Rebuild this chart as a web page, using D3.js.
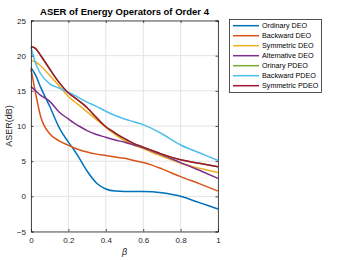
<!DOCTYPE html>
<html>
<head>
<script src="https://cdn.jsdelivr.net/npm/d3@7"></script>
<style>
  body { margin: 0; background: #fff; }
  text { font-family: "Liberation Sans", Arial, sans-serif; }
</style>
</head>
<body>
<div id="chart"></div>
<script>

// beta values and one array per operator (dB)
var beta = [0, 0.025, 0.05, 0.1, 0.15, 0.2, 0.225, 0.25, 0.3, 0.35, 0.4, 0.45, 0.5, 0.55, 0.6, 0.65, 0.7, 0.8, 0.9, 1];

var ordinaryDEO    = [18.3, 17.2, 15.6, 12.8, 9.8, 7.7, 6.8, 5.8, 3.6, 1.9, 1.05, 0.75, 0.7, 0.7, 0.7, 0.65, 0.5, 0.0, -0.9, -1.8];
var backwardDEO    = [18.1, 14.6, 11.5, 8.9, 7.9, 7.25, 6.95, 6.7, 6.3, 6.0, 5.8, 5.6, 5.4, 5.1, 4.8, 4.4, 3.9, 2.8, 1.8, 0.75];
var symmetricDEO   = [19.3, 19.1, 18.6, 17.2, 15.7, 14.2, 13.6, 13.1, 12.0, 10.9, 9.8, 8.8, 7.9, 7.3, 6.8, 6.2, 5.7, 4.7, 4.0, 3.4];
var alternativeDEO = [15.6, 15.0, 14.4, 13.5, 12.0, 11.0, 10.5, 10.1, 9.35, 8.8, 8.4, 8.0, 7.7, 7.3, 6.9, 6.4, 5.9, 4.8, 3.7, 2.55];
var orinaryPDEO    = [21.3, 21.0, 20.1, 18.1, 16.2, 14.7, 14.2, 13.7, 12.6, 11.2, 9.9, 9.0, 8.2, 7.5, 7.0, 6.5, 6.0, 5.2, 4.7, 4.2];
var backwardPDEO   = [21.2, 18.9, 17.5, 16.0, 15.4, 14.8, 14.5, 14.1, 13.4, 12.8, 12.1, 11.5, 11.0, 10.6, 10.2, 9.6, 8.9, 7.3, 6.2, 5.1];
var symmetricPDEO  = [21.3, 21.0, 20.1, 18.1, 16.2, 14.7, 14.2, 13.7, 12.6, 11.2, 9.9, 9.0, 8.2, 7.5, 7.0, 6.5, 6.0, 5.2, 4.7, 4.2];

var names  = ["Ordinary DEO", "Backward DEO", "Symmetric DEO", "Alternative DEO", "Orinary PDEO", "Backward PDEO", "Symmetric PDEO"];
var colors = ["#0072BD", "#D95319", "#EDB120", "#7E2F8E", "#77AC30", "#4DBEEE", "#A2142F"];
var series = [ordinaryDEO, backwardDEO, symmetricDEO, alternativeDEO, orinaryPDEO, backwardPDEO, symmetricPDEO];

var xTicks = [0, 0.2, 0.4, 0.6, 0.8, 1];
var yTicks = [-5, 0, 5, 10, 15, 20, 25];

var W = 346, H = 260;
var pL = 31, pR = 218, pT = 20.5, pB = 231.5;

var svg = d3.select("#chart").append("svg")
    .attr("width", W)
    .attr("height", H);

var x = d3.scaleLinear().domain([0, 1]).range([pL, pR]);
var y = d3.scaleLinear().domain([-5, 25]).range([pB, pT]);

// grid
svg.append("g").selectAll("line").data(xTicks).enter().append("line")
    .attr("x1", function(d) { return x(d); }).attr("x2", function(d) { return x(d); })
    .attr("y1", pT).attr("y2", pB)
    .attr("stroke", "#e3e3e3").attr("stroke-width", 1);
svg.append("g").selectAll("line").data(yTicks).enter().append("line")
    .attr("y1", function(d) { return y(d); }).attr("y2", function(d) { return y(d); })
    .attr("x1", pL).attr("x2", pR)
    .attr("stroke", "#e3e3e3").attr("stroke-width", 1);

// lines
var line = d3.line().curve(d3.curveMonotoneX);
series.forEach(function(s, i) {
    svg.append("path")
        .datum(s.map(function(v, j) { return [x(beta[j]), y(v)]; }))
        .attr("d", line)
        .attr("fill", "none")
        .attr("stroke", colors[i])
        .attr("stroke-width", 1.5);
});

// axes (ticks inside, matlab style)
var axX = svg.append("g").attr("transform", "translate(0," + pB + ")")
    .call(d3.axisBottom(x).tickValues(xTicks).tickSize(-2.5).tickPadding(6)
        .tickFormat(function(d) { return d === 0 || d === 1 ? d : d.toFixed(1); }));
var axX2 = svg.append("g").attr("transform", "translate(0," + pT + ")")
    .call(d3.axisTop(x).tickValues(xTicks).tickSize(-2.5).tickFormat(""));
var axY = svg.append("g").attr("transform", "translate(" + pL + ",0)")
    .call(d3.axisLeft(y).tickValues(yTicks).tickSize(-2.5).tickPadding(5));
var axY2 = svg.append("g").attr("transform", "translate(" + pR + ",0)")
    .call(d3.axisRight(y).tickValues(yTicks).tickSize(-2.5).tickFormat(""));

[axX, axX2, axY, axY2].forEach(function(a) {
    a.select(".domain").attr("stroke", "#262626").attr("stroke-width", 0.8);
    a.selectAll(".tick line").attr("stroke", "#262626").attr("stroke-width", 0.8);
    a.selectAll("text").attr("fill", "#262626").style("font-size", "8px")
        .style("font-family", "Liberation Sans, Arial, sans-serif");
});

// title and labels
svg.append("text")
    .attr("x", (pL + pR) / 2).attr("y", 15)
    .attr("text-anchor", "middle")
    .style("font-size", "9.5px").style("font-weight", "bold")
    .attr("fill", "#000")
    .text("ASER of Energy Operators of Order 4");

svg.append("text")
    .attr("transform", "translate(12," + ((pT + pB) / 2) + ") rotate(-90)")
    .attr("text-anchor", "middle")
    .style("font-size", "9px")
    .attr("fill", "#262626")
    .text("ASER(dB)");

svg.append("text")
    .attr("x", (pL + pR) / 2).attr("y", 255)
    .attr("text-anchor", "middle")
    .style("font-size", "9px").style("font-style", "italic")
    .attr("fill", "#262626")
    .text("β");

// legend
var lg = svg.append("g");
lg.append("rect")
    .attr("x", 229.5).attr("y", 19.5).attr("width", 92).attr("height", 73)
    .attr("fill", "#fff").attr("stroke", "#262626").attr("stroke-width", 0.8);
names.forEach(function(n, i) {
    var yy = 25.7 + i * 10;
    lg.append("line")
        .attr("x1", 233).attr("x2", 259).attr("y1", yy).attr("y2", yy)
        .attr("stroke", colors[i]).attr("stroke-width", 1.5);
    lg.append("text")
        .attr("x", 262).attr("y", yy + 2.6)
        .style("font-size", "7.2px")
        .attr("fill", "#000")
        .text(n);
});

</script>
</body>
</html>
